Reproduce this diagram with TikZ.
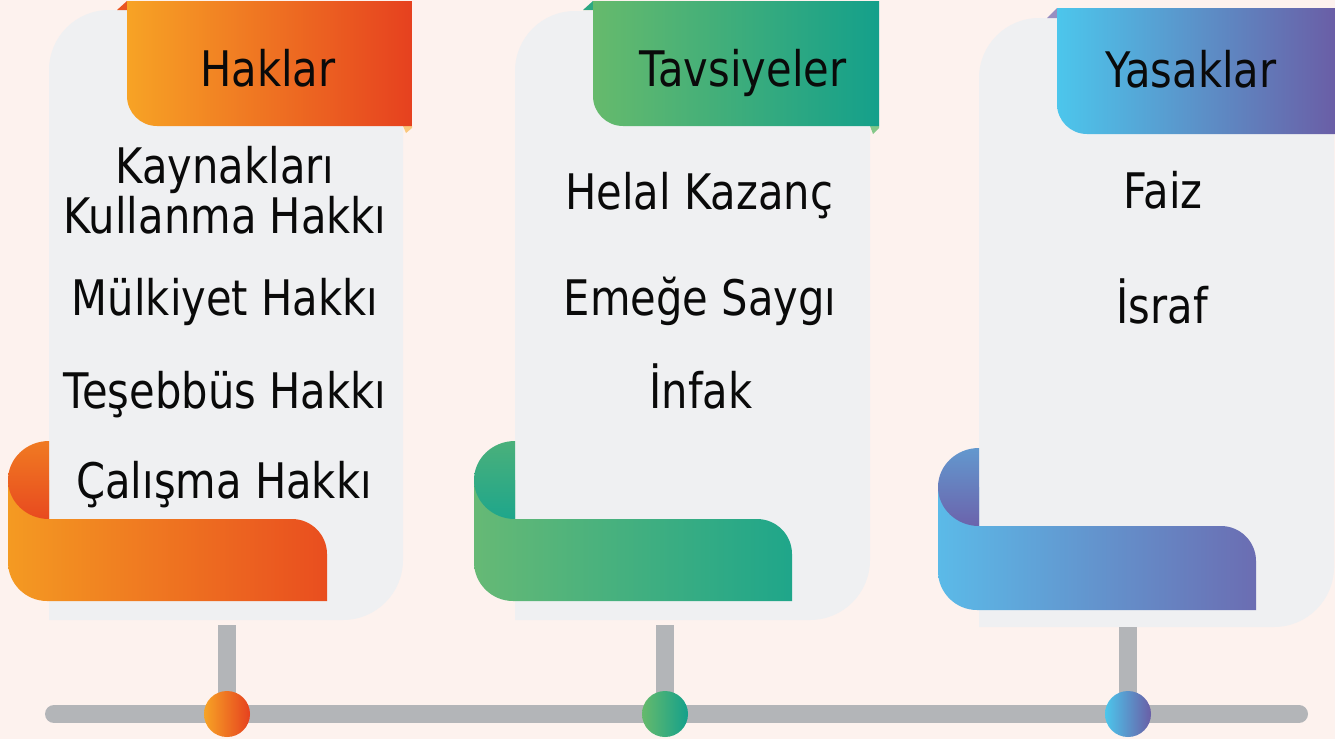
\documentclass[tikz,border=0pt]{standalone}
\usepackage{fontspec}
\setmainfont{DejaVu Sans}[FakeStretch=0.85]
\definecolor{bg}{HTML}{FDF2EE}
\definecolor{card}{HTML}{EFF0F2}
\definecolor{gry}{HTML}{B3B5B8}
\definecolor{ink}{HTML}{0A0A0A}
% orange
\definecolor{orL}{HTML}{F7A325}\definecolor{orR}{HTML}{E6411F}
\definecolor{orBL}{HTML}{F49A22}\definecolor{orBR}{HTML}{E94E1F}
\definecolor{orCT}{HTML}{F07A22}\definecolor{orCB}{HTML}{E84A1F}
% green
\definecolor{grL}{HTML}{66BA6C}\definecolor{grR}{HTML}{14A08B}
\definecolor{grBL}{HTML}{66B975}\definecolor{grBR}{HTML}{1FA68A}
\definecolor{grCT}{HTML}{4AB07B}\definecolor{grCB}{HTML}{1EA68B}
% blue
\definecolor{blL}{HTML}{4CC6EC}\definecolor{blR}{HTML}{6A5EA6}
\definecolor{blBL}{HTML}{5BBAE8}\definecolor{blBR}{HTML}{6B6DB2}
\definecolor{blCT}{HTML}{6398CE}\definecolor{blCB}{HTML}{6B63AC}
\tikzset{
  txt/.style={text=ink, inner sep=0pt, anchor=base, font=\fontsize{49pt}{55pt}\selectfont},
  stem/.style={gry, line width=18pt},
  tline/.style={gry, line width=18pt, line cap=round},
  dot/.style={circle, minimum size=46pt, inner sep=0pt},
}
% card: L R T B
\newcommand{\mycard}[4]{%
  \fill[card] (#1,#4) -- (#1,#3+60) .. controls (#1,#3+26.9) and (#1+26.9,#3) .. (#1+60,#3)
   -- (#2,#3) -- (#2,#4-60) .. controls (#2,#4-26.9) and (#2-26.9,#4) .. (#2-60,#4) -- cycle;}
% banner: L R T B leftcolor rightcolor
\newcommand{\mybanner}[6]{%
  \path[left color=#5, right color=#6] (#1,#3) -- (#2,#3) -- (#2,#4) -- (#1+30,#4)
   .. controls (#1+13.4,#4) and (#1,#4-13.4) .. (#1,#4-30) -- cycle;}
% ribbon: CL BR BT BB bandL bandR curlT curlB
\newcommand{\myribbon}[8]{%
  \path[left color=#5, right color=#6] (#1,#3-39) -- (#1,#3) -- (#2-35,#3)
   .. controls (#2-15.7,#3) and (#2,#3+15.7) .. (#2,#3+35) -- (#2,#4) -- (#1-2,#4)
   .. controls (#1-23.5,#4) and (#1-41,#4-17.5) .. (#1-41,#4-39) -- (#1-41,#3-39) -- cycle;
  \path[top color=#7, bottom color=#8] (#1,#3) .. controls (#1-22.6,#3) and (#1-41,#3-17.5) .. (#1-41,#3-39)
   .. controls (#1-41,#3-60.5) and (#1-22.6,#3-78) .. (#1,#3-78) -- cycle;}
\begin{document}
\begin{tikzpicture}[x=1pt,y=-1pt]
\fill[bg] (0,0) rectangle (1335,739);
\useasboundingbox (0,0) rectangle (1335,739);

% cards
\mycard{49}{403}{10}{620}
\mycard{515}{870}{11}{620}
\mycard{979}{1334}{18}{627}

% banner folds
\fill[orR!80!orL] (127,1) -- (117,10) -- (127,10) -- cycle;
\fill[orL!60!white] (403,126) -- (412,126) -- (412,128) -- (406,133) -- cycle;
\fill[grR!70!grL] (593,1) -- (583,10) -- (593,10) -- cycle;
\fill[grL!80!white] (870,126) -- (879,126) -- (879,128) -- (873,134) -- cycle;
\fill[blR!70!white] (1057,8) -- (1047,18) -- (1057,18) -- cycle;

% banners
\mybanner{127}{412}{1}{126}{orL}{orR}
\mybanner{593}{879}{1}{126}{grL}{grR}
\mybanner{1057}{1335}{8}{134}{blL}{blR}

% ribbons
\myribbon{49}{327}{519}{601}{orBL}{orBR}{orCT}{orCB}
\myribbon{515}{792}{519}{601}{grBL}{grBR}{grCT}{grCB}
\myribbon{979}{1256}{526}{610}{blBL}{blBR}{blCT}{blCB}

% timeline
\coordinate (tl) at (54,714);
\coordinate (tr) at (1299,714);
\coordinate (c1) at (227,714);
\coordinate (c2) at (665,714);
\coordinate (c3) at (1128,714);
\coordinate (s1) at (227,625);
\coordinate (s2) at (665,625);
\coordinate (s3) at (1128,627);
\draw[tline] (tl) -- (tr);
\draw[stem] (s1) -- (c1);
\draw[stem] (s2) -- (c2);
\draw[stem] (s3) -- (c3);
\node[dot, left color=orL, right color=orR] (d1) at (c1) {};
\node[dot, left color=grL, right color=grR] (d2) at (c2) {};
\node[dot, left color=blL, right color=blR] (d3) at (c3) {};

% headers
\node[txt] (h1) at (268,86) {Haklar};
\node[txt] (h2) at (743,86) {Tavsiyeler};
\node[txt] (h3) at (1191,87) {Yasaklar};

% column 1
\node[txt] (a1) at (225,183) {Kaynakları};
\node[txt] (a2) at (225,233) {Kullanma Hakkı};
\node[txt] (a3) at (225,315) {Mülkiyet Hakkı};
\node[txt] (a4) at (225,408) {Teşebbüs Hakkı};
\node[txt] (a5) at (224,498) {Çalışma Hakkı};

% column 2
\node[txt] (b1) at (699,209) {Helal Kazanç};
\node[txt] (b2) at (700,315) {Emeğe Saygı};
\node[txt] (b3) at (701,408) {İnfak};

% column 3
\node[txt] (e1) at (1163,208) {Faiz};
\node[txt] (e2) at (1162,323) {İsraf};
\end{tikzpicture}
\end{document}
